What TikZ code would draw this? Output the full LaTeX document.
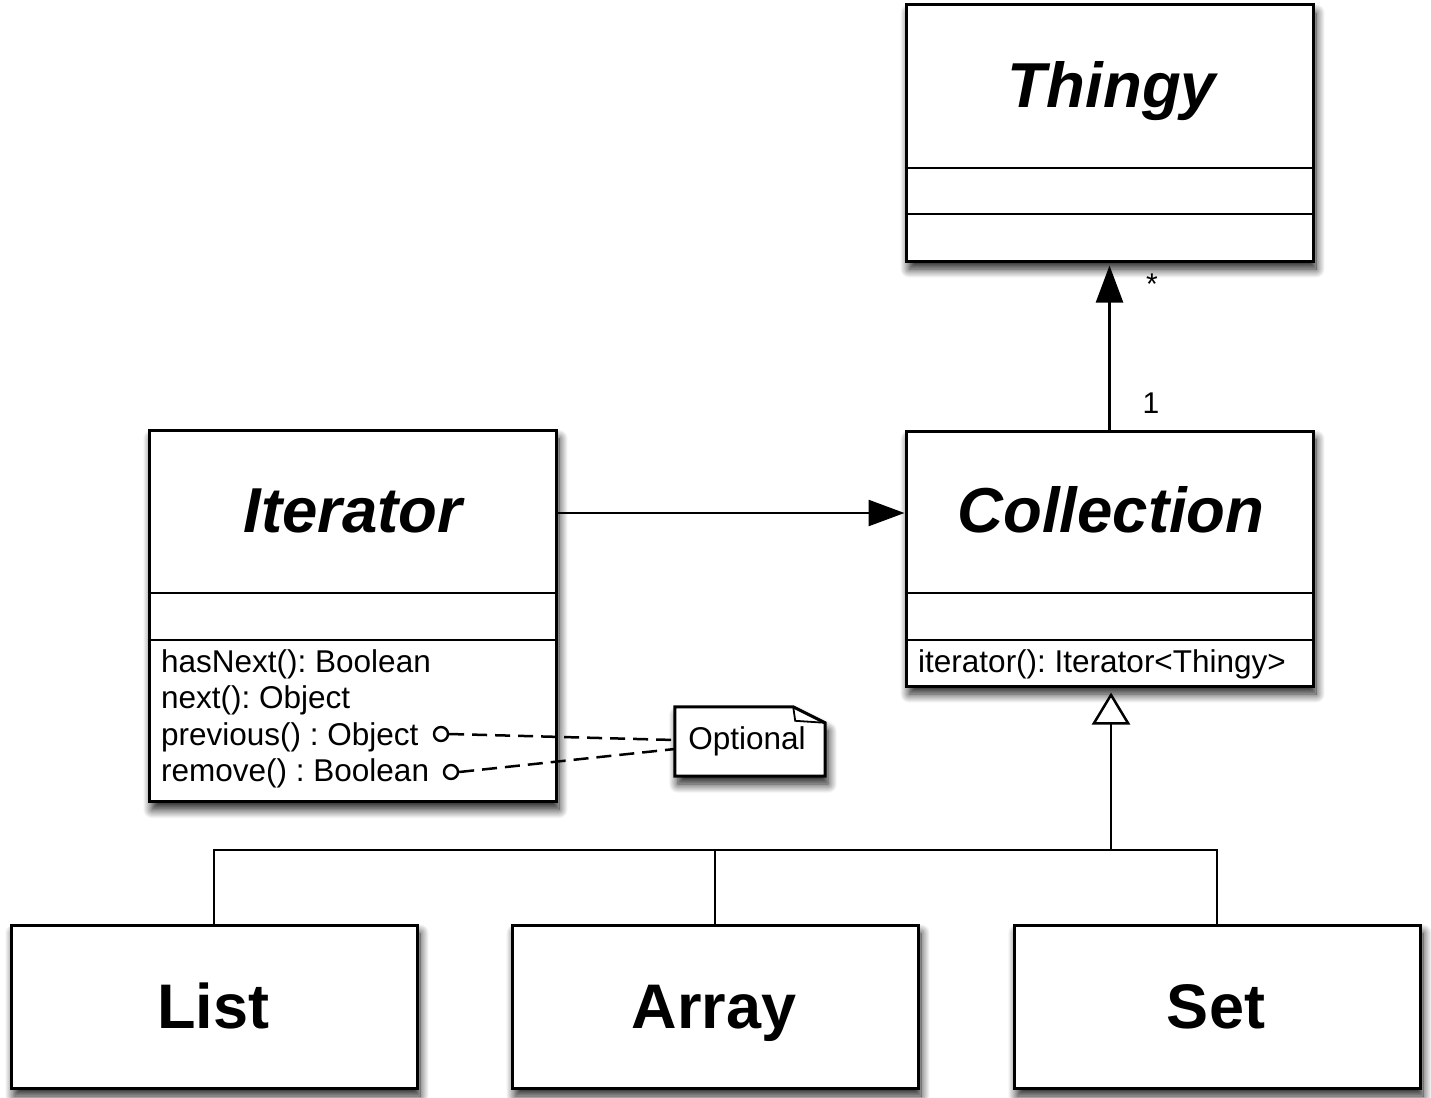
\documentclass[tikz,border=0pt]{standalone}
\usepackage{fontspec}
\setmainfont{Liberation Sans}
\usetikzlibrary{arrows.meta,shadows.blur}
\frenchspacing
\begin{document}
\frenchspacing
\begin{tikzpicture}[x=1pt,y=-1pt,
  shad/.style={blur shadow={shadow xshift=3pt,shadow yshift=-8pt,shadow blur radius=9pt,shadow blur steps=14,shadow opacity=90}},
  classbox/.style={draw,line width=3pt,fill=white,rectangle,inner sep=0pt,shad},
  divider/.style={line width=2.5pt},
  title/.style={font=\fontsize{63.5}{70}\selectfont\bfseries\itshape,anchor=base,inner sep=0pt},
  plaintitle/.style={font=\fontsize{63}{70}\selectfont\bfseries,anchor=base,inner sep=0pt},
  method/.style={font=\fontsize{31.5}{36}\selectfont,anchor=base west,inner sep=0pt},
  mult/.style={font=\fontsize{30}{34}\selectfont,anchor=base,inner sep=0pt},
  conn/.style={line width=2.5pt},
  ball/.style={circle,draw,line width=2.4pt,minimum size=14pt,inner sep=0pt,fill=white},
  notedash/.style={line width=2.5pt,dash pattern=on 15pt off 8pt}]
\useasboundingbox (0,0) rectangle (1431,1097);

% class boxes
\node[classbox,minimum width=407pt,minimum height=256pt] (thingy) at (1109.5,133) {};
\node[classbox,minimum width=407pt,minimum height=371pt] (iter) at (352.5,616) {};
\node[classbox,minimum width=407pt,minimum height=255pt] (coll) at (1109.5,558.5) {};
\node[classbox,minimum width=406pt,minimum height=163pt] (list) at (214,1006.5) {};
\node[classbox,minimum width=406pt,minimum height=163pt] (array) at (715,1006.5) {};
\node[classbox,minimum width=406pt,minimum height=163pt] (set) at (1217,1006.5) {};

% compartments
\draw[divider] (thingy.west |- 0,168) -- (thingy.east |- 0,168);
\draw[divider] (thingy.west |- 0,214) -- (thingy.east |- 0,214);
\draw[divider] (iter.west |- 0,593) -- (iter.east |- 0,593);
\draw[divider] (iter.west |- 0,640) -- (iter.east |- 0,640);
\draw[divider] (coll.west |- 0,593) -- (coll.east |- 0,593);
\draw[divider] (coll.west |- 0,640) -- (coll.east |- 0,640);

% titles
\node[title] (thingyname) at (1112,108) {Thingy};
\node[title] (itername) at (353,532) {Iterator};
\node[title] (collname) at (1111,532) {Collection};
\node[plaintitle] (listname) at (213,1028) {List};
\node[plaintitle] (arrayname) at (714,1028) {Array};
\node[plaintitle] (setname) at (1216,1028) {Set};

% operations
\node[method] (m1) at (161,672) {hasNext(): Boolean};
\node[method] (m2) at (161,708.5) {next(): Object};
\node[method] (m3) at (161,745) {previous() : Object};
\node[method] (m4) at (161,781.5) {remove() : Boolean};
\node[method] (m5) at (918,672) {iterator(): Iterator<Thingy>};

% note
\node[minimum width=150pt,minimum height=69pt,inner sep=0pt] (note) at (750,741.5) {};
\draw[line width=3pt,fill=white,shad,line join=miter]
  (note.north west) -- ([xshift=-32pt]note.north east) -- ([yshift=-16pt]note.north east)
  -- (note.south east) -- (note.south west) -- cycle;
\draw[line width=1.8pt] ([xshift=-32pt]note.north east) -- ([xshift=-30pt,yshift=-14pt]note.north east) -- ([yshift=-16pt]note.north east);
\node[font=\fontsize{31.5}{36}\selectfont,inner sep=0pt] (notetext) at ([xshift=-3pt]note.center) {Optional};

% note links
\node[ball] (c1) at (441,734) {};
\node[ball] (c2) at (451,772) {};
\draw[notedash] (c1.east) -- ([yshift=1.5pt]note.west);
\draw[notedash] (c2.east) -- ([yshift=-7.5pt]note.west);

% association Iterator -> Collection
\draw[conn,-{Triangle[length=36pt,width=26pt,fill=black]}] (iter.east |- 0,513) -- (coll.west |- 0,513);

% association Collection -> Thingy
\draw[conn,-{Triangle[length=37pt,width=27pt,fill=black]}] (coll.north) -- ([yshift=-3pt]thingy.south);
\node[mult] (starlabel) at (1152,294) {*};
\node[mult] (onelabel) at (1151,413) {1};

% generalization
\coordinate (junc) at (1111,850);
\draw[conn,-{Triangle[open,length=32pt,width=38pt,fill=white]},shorten >=5pt] (junc) -- (coll.south -| junc);
\draw[conn] (list.north) -- (list.north |- junc) -- (set.north |- junc) -- (set.north);
\draw[conn] (array.north) -- (array.north |- junc);
\end{tikzpicture}
\end{document}
